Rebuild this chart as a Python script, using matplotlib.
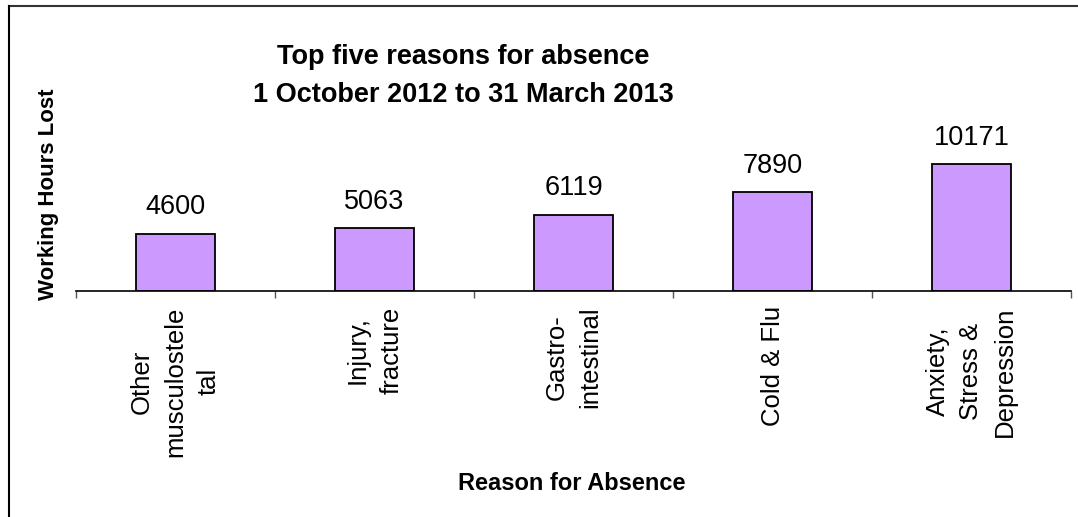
import numpy as np
import matplotlib.pyplot as plt
from matplotlib.lines import Line2D

plt.rcParams['font.family'] = ['Liberation Sans', 'DejaVu Sans']

reasons = ['Other\nmusculostele\ntal', 'Injury,\nfracture', 'Gastro-\nintestinal',
           'Cold & Flu', 'Anxiety,\nStress &\nDepression']
hours = [4600, 5063, 6119, 7890, 10171]

W, H = 1078, 517
fig = plt.figure(figsize=(W / 100, H / 100), dpi=100)

# plot area in pixels: x 76..1071, baseline at y=291, 150 px tall
ax = fig.add_axes([76 / W, (H - 291) / H, (1071 - 76) / W, 150 / H])
x = np.arange(len(hours))
bars = ax.bar(x, hours, width=0.4, color='#CC99FF', edgecolor='black', linewidth=1.3)
for xi, v in zip(x, hours):
    ax.text(xi, v + 1050, str(v), ha='center', va='bottom', fontsize=19.5, clip_on=False)

ax.set_xlim(-0.5, len(hours) - 0.5)
ax.set_ylim(0, 12000)
for s in ['left', 'top', 'right']:
    ax.spines[s].set_visible(False)
ax.spines['bottom'].set_linewidth(1.2)
ax.set_yticks([])

# ticks on the category boundaries, labels at the centres
ax.set_xticks(np.arange(-0.5, len(hours)), labels=[''] * (len(hours) + 1))
ax.tick_params(axis='x', which='major', length=5, width=1, color='#555555', direction='out')
ax.set_xticks(x, minor=True)
ax.set_xticklabels(reasons, minor=True, rotation=90, fontsize=18.5,
                   ha='center', va='top', multialignment='center', linespacing=1.5)
ax.tick_params(axis='x', which='minor', length=0, pad=11)

fig.text(463 / W, 1 - 76 / H, 'Top five reasons for absence\n1 October 2012 to 31 March 2013',
         ha='center', va='center', fontsize=19.5, fontweight='bold', linespacing=1.65)
fig.text(49 / W, 1 - 194 / H, 'Working Hours Lost', rotation=90, ha='center', va='center',
         fontsize=16, fontweight='bold')
fig.text(572 / W, 1 - 484 / H, 'Reason for Absence', ha='center', va='center',
         fontsize=17, fontweight='bold')

# chart frame: only the top and left edges are drawn
fig.add_artist(Line2D([9 / W, 1.0], [1 - 6 / H, 1 - 6 / H], color='#333333', linewidth=1.5))
fig.add_artist(Line2D([9 / W, 9 / W], [0, 1 - 6 / H], color='black', linewidth=1.5))

fig.savefig('out.png', dpi=100)
